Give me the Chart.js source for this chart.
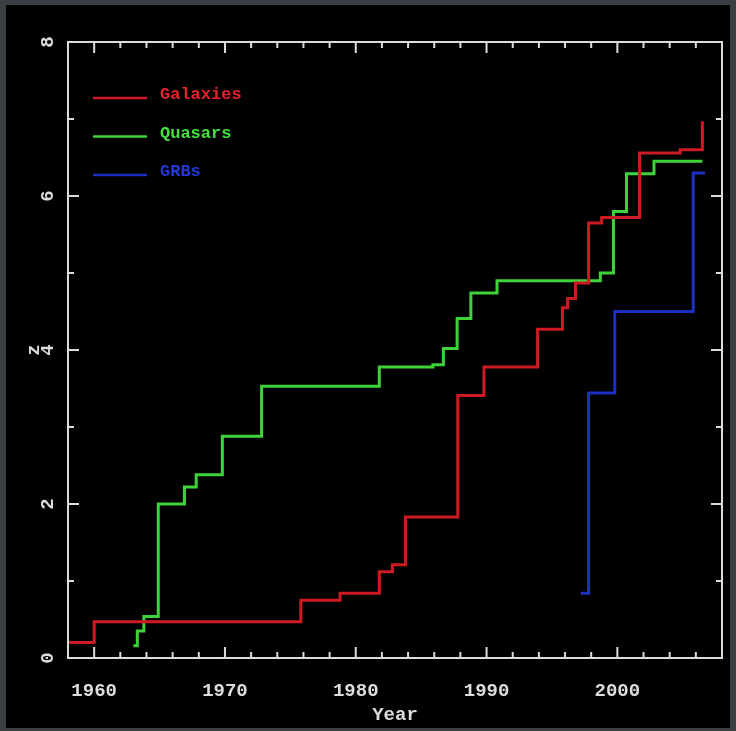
<!DOCTYPE html>
<html>
<head>
<meta charset="utf-8">
<title>Highest redshift by year</title>
<script src="https://cdn.jsdelivr.net/npm/chart.js@4.4.1/dist/chart.umd.min.js"></script>
<style>
  html, body { margin: 0; padding: 0; background: #3b3e43; overflow: hidden; }
  #panel { position: absolute; left: 6px; top: 5px; width: 724px; height: 723px; background: #000; }
</style>
</head>
<body>
<div id="panel"><canvas id="zChart"></canvas></div>
<script>
  // record redshift per year, each value holds until the next entry
  const galaxyYears = [1958, 1960, 1975.8, 1978.8, 1981.8, 1982.8, 1983.8, 1987.8, 1989.8, 1993.9, 1995.8, 1996.2, 1996.8, 1997.8, 1998.8, 2001.7, 2004.8, 2006.5];
  const galaxyZ = [0.2, 0.47, 0.75, 0.84, 1.12, 1.21, 1.83, 3.41, 3.78, 4.27, 4.55, 4.67, 4.87, 5.65, 5.72, 6.56, 6.6, 6.97];

  const quasarYears = [1963.0, 1963.3, 1963.8, 1964.9, 1966.9, 1967.8, 1969.8, 1972.8, 1981.8, 1985.9, 1986.7, 1987.75, 1988.8, 1990.8, 1998.7, 1999.7, 2000.7, 2002.8, 2006.5];
  const quasarZ = [0.16, 0.35, 0.54, 2.0, 2.22, 2.38, 2.88, 3.53, 3.78, 3.81, 4.02, 4.41, 4.74, 4.9, 5.0, 5.8, 6.29, 6.45, 6.45];

  const grbYears = [1997.2, 1997.8, 1999.8, 2005.8, 2006.7];
  const grbZ = [0.84, 3.44, 4.5, 6.3, 6.3];

  const yearTicks = [1960, 1970, 1980, 1990, 2000];

  const seriesNames = ['Galaxies', 'Quasars', 'GRBs'];
  const seriesColors = ['#cf1a24', '#3fd33a', '#1b2fc4'];
  const labelColors = ['#e8222c', '#48e040', '#2238d8'];

  const axisColor = '#dcdcdc';
  const monoFont = "'Liberation Mono', 'DejaVu Sans Mono', monospace";

  function toPoints(xs, ys) {
    return xs.map((x, i) => ({ x: x, y: ys[i] }));
  }

  // box frame with inward ticks, rotated y labels and the legend
  const framePlugin = {
    id: 'frame',
    afterDatasetsDraw(chart) {
      const { ctx, chartArea: a, scales: { x, y } } = chart;
      ctx.save();
      ctx.strokeStyle = axisColor;
      ctx.lineWidth = 2;
      ctx.strokeRect(a.left, a.top, a.right - a.left, a.bottom - a.top);

      const seg = (x1, y1, x2, y2) => {
        ctx.beginPath();
        ctx.moveTo(x1, y1);
        ctx.lineTo(x2, y2);
        ctx.stroke();
      };

      for (let yr = 1960; yr < x.max; yr += 2) {
        const px = x.getPixelForValue(yr);
        const len = yr % 10 === 0 ? 11 : 6;
        seg(px, a.bottom, px, a.bottom - len);
        seg(px, a.top, px, a.top + len);
      }
      for (let z = y.min + 1; z < y.max; z += 1) {
        const py = y.getPixelForValue(z);
        const len = z % 2 === 0 ? 11 : 6;
        seg(a.left, py, a.left + len, py);
        seg(a.right, py, a.right - len, py);
      }

      // y tick labels run along the axis
      ctx.fillStyle = axisColor;
      ctx.font = 'bold 19px ' + monoFont;
      ctx.textAlign = 'center';
      ctx.textBaseline = 'middle';
      y.ticks.forEach(t => {
        ctx.save();
        ctx.translate(a.left - 21, y.getPixelForValue(t.value));
        ctx.rotate(-Math.PI / 2);
        ctx.fillText(String(t.value), 0, 1);
        ctx.restore();
      });

      // legend in the upper left corner
      ctx.font = 'bold 17px ' + monoFont;
      ctx.textAlign = 'left';
      chart.data.datasets.forEach((ds, i) => {
        const ly = a.top + 56 + i * 38.5;
        ctx.strokeStyle = ds.borderColor;
        ctx.lineWidth = 2.5;
        seg(a.left + 25, ly, a.left + 79, ly);
        ctx.fillStyle = labelColors[i];
        ctx.fillText(ds.label, a.left + 92, ly - 3);
      });
      ctx.restore();
    }
  };

  const datasets = [
    toPoints(galaxyYears, galaxyZ),
    toPoints(quasarYears, quasarZ),
    toPoints(grbYears, grbZ)
  ].map((pts, i) => ({
    label: seriesNames[i],
    data: pts,
    borderColor: seriesColors[i],
    backgroundColor: seriesColors[i],
    borderWidth: 3,
    stepped: 'before',
    pointRadius: 0,
    fill: false
  }));

  new Chart(document.getElementById('zChart'), {
    type: 'line',
    data: { datasets: datasets },
    options: {
      responsive: true,
      maintainAspectRatio: false,
      animation: false,
      layout: { padding: { top: 37, right: 8, left: 0, bottom: 0 } },
      plugins: {
        legend: { display: false },
        tooltip: { enabled: false }
      },
      scales: {
        x: {
          type: 'linear',
          min: 1958,
          max: 2008,
          grid: { display: false },
          border: { display: false },
          ticks: {
            padding: 14,
            color: axisColor,
            font: { family: monoFont, size: 19, weight: 'bold' },
            callback: v => String(v)
          },
          afterBuildTicks: scale => {
            scale.ticks = yearTicks.map(v => ({ value: v }));
          },
          title: {
            display: true,
            text: 'Year',
            color: axisColor,
            font: { family: monoFont, size: 19, weight: 'bold' },
            padding: { top: 0, bottom: 1 }
          },
          afterFit: scale => { scale.height = 70; }
        },
        y: {
          min: 0,
          max: 8,
          grid: { display: false },
          border: { display: false },
          ticks: { display: false, stepSize: 2 },
          title: {
            display: true,
            text: 'z',
            color: axisColor,
            font: { family: monoFont, size: 19, weight: 'bold' },
            padding: { top: 17, bottom: 0 }
          },
          afterFit: scale => { scale.width = 62; }
        }
      }
    },
    plugins: [framePlugin]
  });
</script>
</body>
</html>
